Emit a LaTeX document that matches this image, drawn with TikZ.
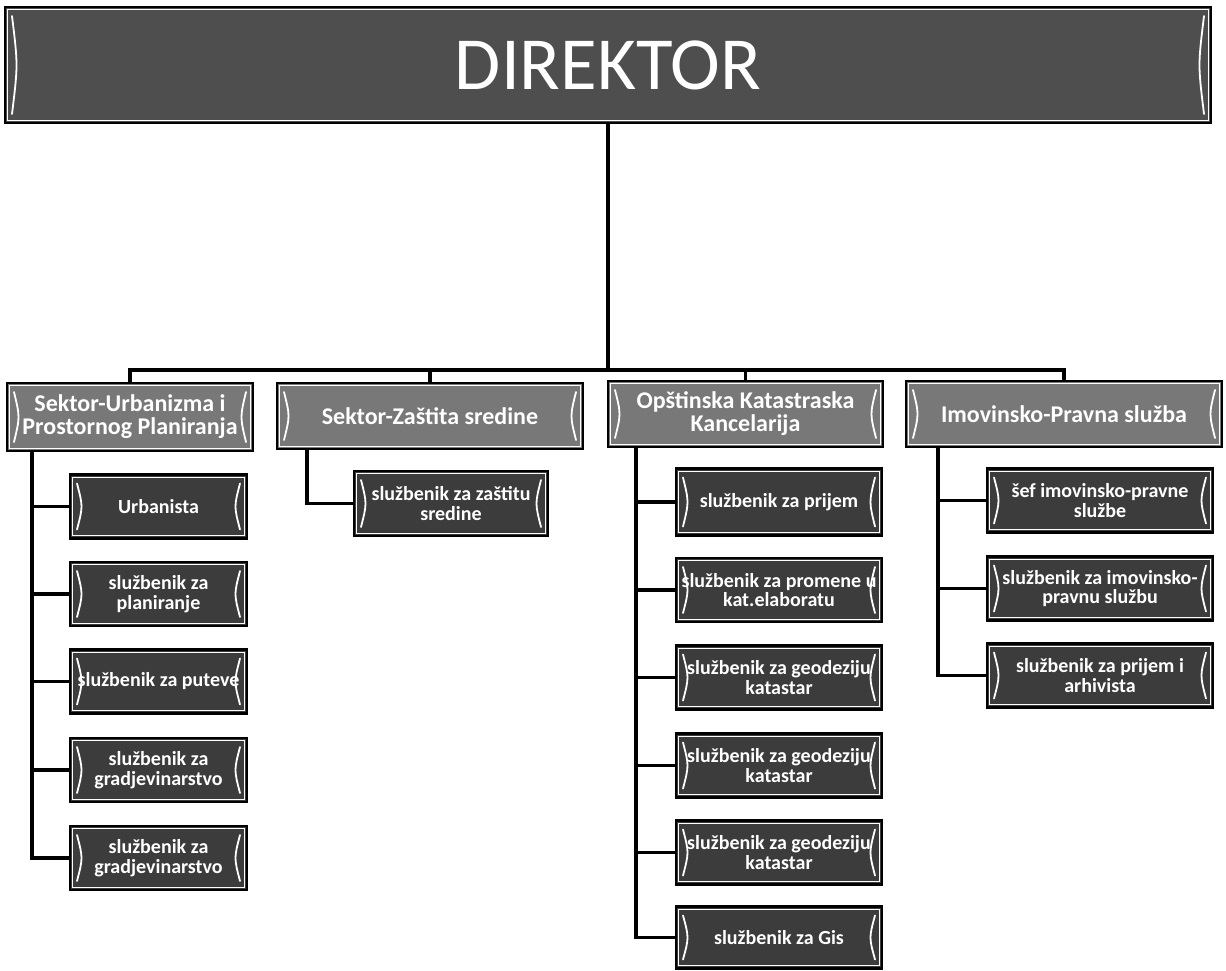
\documentclass[tikz,border=0pt]{standalone}
\usepackage{fontspec}
\setmainfont{Carlito}
\usetikzlibrary{calc}
\definecolor{dirfill}{RGB}{78,78,78}
\definecolor{secfill}{RGB}{120,120,120}
\definecolor{empfill}{RGB}{60,60,60}
\tikzset{
  deco/.style={path picture={
    \draw[white,line width=1.1pt]
      ([shift={(2.6pt,-2.6pt)}]path picture bounding box.north west) rectangle
      ([shift={(-2.6pt,2.6pt)}]path picture bounding box.south east);
    \draw[white,line width=1.8pt,line cap=round]
      ([shift={(7pt,-9pt)}]path picture bounding box.north west) .. controls
      ([shift={(13pt,0pt)}]path picture bounding box.west) ..
      ([shift={(7pt,9pt)}]path picture bounding box.south west);
    \draw[white,line width=1.8pt,line cap=round]
      ([shift={(-7pt,-9pt)}]path picture bounding box.north east) .. controls
      ([shift={(-13pt,0pt)}]path picture bounding box.east) ..
      ([shift={(-7pt,9pt)}]path picture bounding box.south east);
  }},
  basebox/.style={draw=black, line width=2.2pt, rectangle, align=center,
    text=white, inner sep=2pt, deco},
  dirbox/.style={basebox, fill=dirfill, minimum width=1206pt, minimum height=116pt,
    font=\fontsize{75}{75}\selectfont},
  secbox/.style={basebox, fill=secfill, minimum height=66pt,
    font=\bfseries\fontsize{24}{23}\selectfont},
  empbox/.style={basebox, fill=empfill, minimum height=64pt,
    font=\bfseries\fontsize{20}{19.5}\selectfont},
  conn/.style={draw=black, line width=3.2pt, line join=miter}
}
\begin{document}
\begin{tikzpicture}[x=1pt,y=-1pt]
\useasboundingbox (0,0) rectangle (1226,970);

\node[dirbox] (dir) at (608,65) {DIREKTOR};

\node[secbox, minimum width=246pt, minimum height=68pt] (s1) at (130,417) {Sektor-Urbanizma i\\Prostornog Planiranja};
\node[secbox, minimum width=306pt] (s2) at (430,416) {Sektor-Zaštita sredine};
\node[secbox, minimum width=275pt] (s3) at (745.5,414) {Opštinska Katastraska\\Kancelarija};
\node[secbox, minimum width=316pt] (s4) at (1064,414) {Imovinsko-Pravna služba};

\node[empbox, minimum width=177pt] (e11) at (158.5,506.5) {Urbanista};
\node[empbox, minimum width=177pt] (e12) at (158.5,594) {službenik za\\planiranje};
\node[empbox, minimum width=177pt] (e13) at (158.5,681.5) {službenik za puteve};
\node[empbox, minimum width=177pt] (e14) at (158.5,770) {službenik za\\gradjevinarstvo};
\node[empbox, minimum width=177pt] (e15) at (158.5,858) {službenik za\\gradjevinarstvo};

\node[empbox, minimum width=194pt, minimum height=65pt] (e21) at (451,503.5) {službenik za zaštitu\\sredine};

\node[empbox, minimum width=206pt, minimum height=67pt] (e31) at (779,502) {službenik za prijem};
\node[empbox, minimum width=206pt] (e32) at (779,590) {službenik za promene u\\kat.elaboratu};
\node[empbox, minimum width=206pt] (e33) at (779,677.5) {službenik za geodeziju\\katastar};
\node[empbox, minimum width=206pt] (e34) at (779,765.5) {službenik za geodeziju\\katastar};
\node[empbox, minimum width=206pt] (e35) at (779,852.5) {službenik za geodeziju\\katastar};
\node[empbox, minimum width=206pt, minimum height=62pt] (e36) at (779,937.5) {službenik za Gis};

\node[empbox, minimum width=226pt] (e41) at (1100,500.5) {šef imovinsko-pravne\\službe};
\node[empbox, minimum width=226pt] (e42) at (1100,588.5) {službenik za imovinsko-\\pravnu službu};
\node[empbox, minimum width=226pt] (e43) at (1100,675.5) {službenik za prijem i\\arhivista};

\coordinate (bus) at (0,370);
\draw[conn] (dir.south) -- (dir.south |- bus);
\draw[conn] (s1.north) |- (bus -| s4.north) -- (s4.north);
\draw[conn] (s2.north) -- (s2.north |- bus);
\draw[conn] (s3.north) -- (s3.north |- bus);

\coordinate (t1) at ([xshift=26pt]s1.south west);
\coordinate (t2) at ([xshift=31pt]s2.south west);
\coordinate (t3) at ([xshift=29pt]s3.south west);
\coordinate (t4) at ([xshift=33pt]s4.south west);

\foreach \c in {e11,e12,e13,e14,e15} \draw[conn] (t1) |- (\c.west);
\draw[conn] (t2) |- (e21.west);
\foreach \c in {e31,e32,e33,e34,e35,e36} \draw[conn] (t3) |- (\c.west);
\foreach \c in {e41,e42,e43} \draw[conn] (t4) |- (\c.west);
\end{tikzpicture}
\end{document}
